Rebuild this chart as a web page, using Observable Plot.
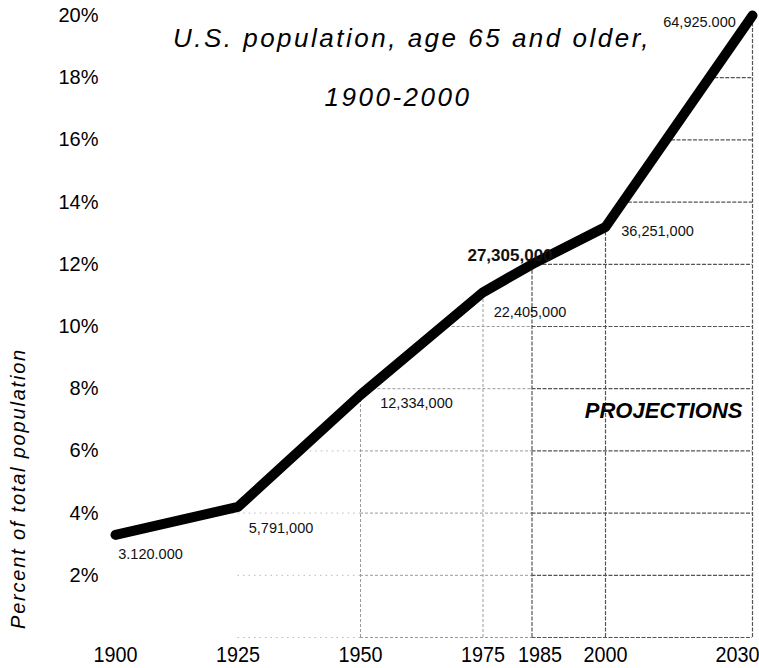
<!DOCTYPE html>
<html><head><meta charset="utf-8">
<script src="https://cdn.jsdelivr.net/npm/d3@7"></script>
<script src="https://cdn.jsdelivr.net/npm/@observablehq/plot@0.6"></script>
<style>
html,body{margin:0;padding:0;background:#fff;}
</style>
</head><body><div id="chart"></div>
<script>
// ---- data ----
const years = [1900, 1925, 1950, 1975, 1985, 2000, 2030];
const percents = [3.3, 4.2, 7.8, 11.1, 12.0, 13.2, 20.0];
const populationLabels = ["3.120.000", "5,791,000", "12,334,000", "22,405,000", "27,305,000", "36,251,000", "64,925.000"];
const yTicks = [2, 4, 6, 8, 10, 12, 14, 16, 18, 20];
const gridLevels = [0, 2, 4, 6, 8, 10, 12, 14, 16, 18];
const gridYears = [1950, 1975, 1985, 2000, 2030];
const titleLines = ["U.S. population, age 65 and older,", "1900-2000"];
const yLabel = "Percent of total population";
const projectionsLabel = "PROJECTIONS";

// ---- layout (offsets in px, not data) ----
const labelDx = [35, 43, 56, 47, -22, 52, -53];
const labelDy = [19, 21, 8, 20, -9, 4, 7];
const labelSize = [14.5, 14.5, 14.5, 14.5, 17, 14.5, 14.5];
const labelWeight = ["normal", "normal", "normal", "normal", "bold", "normal", "normal"];

const data = years.map((year, i) => ({year, pct: percents[i], label: populationLabels[i]}));

function valueAt(year) {
  for (let i = 1; i < data.length; i++) {
    const a = data[i - 1], b = data[i];
    if (year <= b.year) return a.pct + (year - a.year) / (b.year - a.year) * (b.pct - a.pct);
  }
  return data[data.length - 1].pct;
}
function crossYear(level) {
  if (level <= data[0].pct) return data[1].year;
  for (let i = 1; i < data.length; i++) {
    const a = data[i - 1], b = data[i];
    if (level <= b.pct) return a.year + (level - a.pct) / (b.pct - a.pct) * (b.year - a.year);
  }
  return data[data.length - 1].year;
}
const first = years[0], last = years[years.length - 1];
const hGrid = gridLevels.map(level => ({level, start: crossYear(level)}));
const segFaint = hGrid.filter(d => d.start < 1950).map(d => ({level: d.level, x1: d.start, x2: 1950}));
const segMed = hGrid.filter(d => d.start < 1985).map(d => ({level: d.level, x1: Math.max(d.start, 1950), x2: 1985}));
const segDark = hGrid.map(d => ({level: d.level, x1: Math.max(d.start, 1985), x2: last}));
const vGrid = gridYears.map(year => ({year, top: valueAt(year)}));

const faint = {stroke: "#bbb", strokeDasharray: "1.5,4", strokeWidth: 1};
const medium = {stroke: "#9a9a9a", strokeDasharray: "3,2", strokeWidth: 1};
const dark = {stroke: "#555", strokeDasharray: "4,1.5", strokeWidth: 1.2};

const sans = "'Liberation Sans', Arial, Helvetica, sans-serif";
const xTickFont = {tickSize: 0, tickPadding: 9, tickFormat: d => String(d), fontSize: 22, fontFamily: sans, label: null};

const chart = Plot.plot({
  width: 759,
  height: 668,
  marginLeft: 115,
  marginRight: 7,
  marginTop: 15,
  marginBottom: 31,
  x: {domain: [first, last]},
  y: {domain: [0, 20]},
  style: {fontFamily: sans, background: "#fff", color: "#000", overflow: "visible"},
  marks: [
    Plot.ruleY(segFaint, {y: "level", x1: "x1", x2: "x2", ...faint}),
    Plot.ruleY(segMed, {y: "level", x1: "x1", x2: "x2", ...medium}),
    Plot.ruleY(segDark, {y: "level", x1: "x1", x2: "x2", ...dark}),
    Plot.ruleX(vGrid.filter(d => d.year < 1985), {x: "year", y1: 0, y2: "top", ...medium}),
    Plot.ruleX(vGrid.filter(d => d.year >= 1985), {x: "year", y1: 0, y2: "top", ...dark}),
    Plot.line(data, {x: "year", y: "pct", stroke: "#000", strokeWidth: 10, strokeLinejoin: "round", strokeLinecap: "round"}),
    ...data.map((d, i) => Plot.text([d], {
      x: "year", y: "pct", text: "label",
      dx: labelDx[i], dy: labelDy[i],
      fontSize: labelSize[i], fontWeight: labelWeight[i], fontFamily: sans, fill: "#111"
    })),
    Plot.axisY({ticks: yTicks, tickSize: 0, tickPadding: 17, tickFormat: d => d + "%", fontSize: 20, fontFamily: sans, label: null}),
    Plot.axisX({ticks: years.filter(y => y !== 1985 && y !== 2030), ...xTickFont}),
    Plot.axisX({ticks: [1985], dx: 8, ...xTickFont}),
    Plot.axisX({ticks: [2030], textAnchor: "end", dx: 7, ...xTickFont}),
    Plot.text([titleLines[0]], {frameAnchor: "top", textAnchor: "middle", lineAnchor: "middle", dx: -22, dy: 23, fontSize: 26, fontStyle: "italic", fontFamily: sans}),
    Plot.text([titleLines[1]], {frameAnchor: "top", textAnchor: "middle", lineAnchor: "middle", dx: -36, dy: 82, fontSize: 26, fontStyle: "italic", fontFamily: sans}),
    Plot.text([yLabel], {frameAnchor: "left", textAnchor: "middle", lineAnchor: "middle", rotate: -90, dx: -97, dy: 162, fontSize: 20, fontStyle: "italic", fontFamily: sans}),
    Plot.text([projectionsLabel], {frameAnchor: "right", textAnchor: "end", lineAnchor: "middle", dx: -10, dy: 84, fontSize: 22, fontStyle: "italic", fontWeight: "bold", fontFamily: sans})
  ]
});

const sel = d3.select(chart);
sel.selectAll("text").each(function () {
  const t = this.textContent;
  if (t === titleLines[0] || t === titleLines[1]) d3.select(this).style("letter-spacing", "2.5px");
  if (t === yLabel) d3.select(this).style("letter-spacing", "1.8px");
});
// slightly condensed look for the year labels
sel.selectAll('g[aria-label="x-axis tick label"] text').each(function () {
  const tr = this.getAttribute("transform") || "";
  this.setAttribute("transform", tr + " scale(0.9,1)");
});

document.getElementById("chart").appendChild(chart);
</script>
</body></html>
